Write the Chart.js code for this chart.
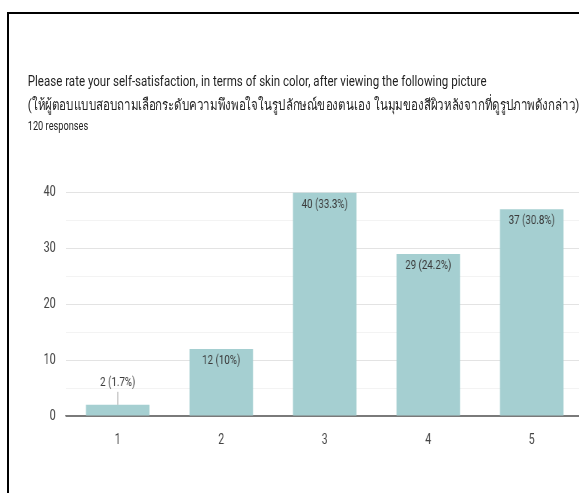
<!DOCTYPE html>
<html>
<head>
<meta charset="utf-8">
<script src="https://cdn.jsdelivr.net/npm/chart.js@4.4.0/dist/chart.umd.min.js"></script>
<style>
  html, body { margin: 0; padding: 0; background: #fff; }
  .pagina { position: relative; width: 579px; height: 493px; overflow: hidden; background: #fff; }
  .linha-topo { position: absolute; left: 7px; top: 12px; width: 572px; height: 2px; background: #000; }
  .linha-esq { position: absolute; left: 7px; top: 12px; width: 2px; height: 481px; background: #000; }
  /* the screenshot is squeezed sideways, so the whole card is too */
  .cartao { position: absolute; left: 0; top: 0; width: 790px; height: 493px; transform: scaleX(0.75); transform-origin: 0 0; }
  .titulo { position: absolute; left: 37px; top: 69px; font-family: Roboto, "Noto Sans", sans-serif; color: #1f1f1f; font-size: 15.4px; line-height: 24px; white-space: nowrap; }
  .respostas { position: absolute; left: 37px; top: 119px; font-family: Roboto, sans-serif; color: #1f1f1f; font-size: 12.3px; }
  canvas { position: absolute; left: 0; top: 170px; }
</style>
</head>
<body>
<div class="pagina">
<div class="linha-topo"></div>
<div class="linha-esq"></div>
<div class="cartao">
  <div class="titulo">Please rate your self-satisfaction, in terms of skin color, after viewing the following picture<br>(ให้ผู้ตอบแบบสอบถามเลือกระดับความพึงพอใจในรูปลักษณ์ของตนเอง ในมุมของสีผิวหลังจากที่ดูรูปภาพดังกล่าว)</div>
  <div class="respostas">120 responses</div>
  <canvas id="grafico" width="790" height="286"></canvas>
</div>
</div>
<script>
// dados
const categorias = ['1', '2', '3', '4', '5'];
const respostas = [2, 12, 40, 29, 37];
const ticksY = [0, 10, 20, 30, 40];

const COR_BARRA = '#a5cfd1';
const totalRespostas = respostas.reduce((a, b) => a + b, 0);

// "12 (10%)" — percentagem com no máximo uma casa decimal
function rotulo(v) {
  return `${v} (${Number((v / totalRespostas * 100).toFixed(1))}%)`;
}

// rótulos no topo de cada barra; se a barra for baixa demais vai por cima com um traço
const rotulosBarras = {
  id: 'rotulosBarras',
  afterDatasetsDraw(chart) {
    const ctx = chart.ctx;
    const meta = chart.getDatasetMeta(0);
    ctx.save();
    ctx.font = '13px Roboto, sans-serif';
    ctx.fillStyle = '#3a3a3a';
    ctx.textAlign = 'center';
    ctx.textBaseline = 'middle';
    meta.data.forEach((barra, i) => {
      const altura = barra.base - barra.y;
      if (altura > 24) {
        ctx.fillText(rotulo(respostas[i]), barra.x, barra.y + 12);
      } else {
        const yTexto = barra.y - 22;
        ctx.strokeStyle = '#9a9a9a';
        ctx.lineWidth = 1;
        ctx.beginPath();
        ctx.moveTo(barra.x, yTexto + 9);
        ctx.lineTo(barra.x, barra.y);
        ctx.stroke();
        ctx.fillText(rotulo(respostas[i]), barra.x, yTexto);
      }
    });
    ctx.restore();
  }
};

new Chart(document.getElementById('grafico'), {
  type: 'bar',
  data: {
    labels: categorias,
    datasets: [{ data: respostas, backgroundColor: COR_BARRA, barPercentage: 0.614, categoryPercentage: 1 }]
  },
  options: {
    responsive: false,
    animation: false,
    devicePixelRatio: 1,
    // a área do gráfico passa da margem direita da imagem, como no original
    layout: { padding: { top: 20, right: 12, left: 0, bottom: 0 } },
    plugins: { legend: { display: false }, tooltip: { enabled: false } },
    scales: {
      x: {
        grid: { display: false },
        border: { color: '#7a7a7a', width: 1.5 },
        ticks: { color: '#444', font: { family: 'Roboto', size: 14 }, padding: 8 },
        afterFit(escala) { escala.height = 40; }
      },
      y: {
        min: 0,
        max: ticksY[ticksY.length - 1],
        border: { display: false },
        grid: {
          color: c => c.tick.value === 0 ? '#7a7a7a' : (ticksY.includes(c.tick.value) ? '#e3e3e3' : '#f3f3f3'),
          drawTicks: false
        },
        ticks: {
          stepSize: 5,
          padding: 14,
          color: '#444',
          font: { family: 'Roboto', size: 14 },
          callback: v => ticksY.includes(v) ? v : ''
        },
        afterFit(escala) { escala.width = 88; }
      }
    }
  },
  plugins: [rotulosBarras]
});
</script>
</body>
</html>
